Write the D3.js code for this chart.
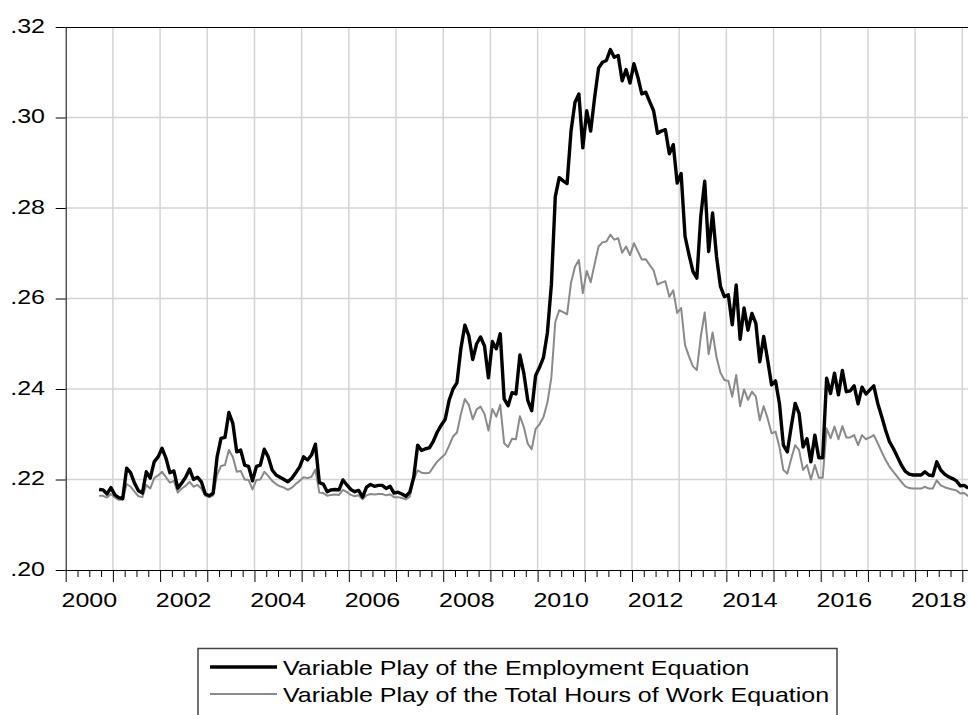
<!DOCTYPE html>
<html>
<head>
<meta charset="utf-8">
<script src="https://cdn.jsdelivr.net/npm/d3@7"></script>
<style>
  html, body { margin: 0; padding: 0; background: #fff; }
  #chart { width: 968px; height: 715px; overflow: hidden; }
  text { font-family: "Liberation Sans", Arial, sans-serif; fill: #000; }
</style>
</head>
<body>
<div id="chart"></div>
<script>
// monthly observations, first one is 2000M09
const startYear = 2000;
const startMonth = 9;

const employment = [
  .2178, .2177, .2168, .2182,
  .2166, .2160, .2158, .2225, .2215, .2192, .2175, .2170, .2217, .2203, .2239, .2250,
  .2269, .2247, .2215, .2219, .2181, .2192, .2205, .2223, .2200, .2205, .2195, .2168,
  .2164, .2170, .2250, .2291, .2293, .2348, .2324, .2261, .2265, .2232, .2229, .2197,
  .2229, .2232, .2267, .2250, .2221, .2210, .2205, .2200, .2195, .2203, .2215, .2228,
  .2250, .2243, .2254, .2278, .2193, .2190, .2173, .2177, .2178, .2177, .2199, .2188,
  .2178, .2173, .2176, .2161, .2183, .2189, .2185, .2187, .2187, .2180, .2185, .2170,
  .2172, .2168, .2163, .2172, .2205, .2276, .2264, .2268, .2270, .2285, .2305, .2320,
  .2333, .2375, .2400, .2414, .2490, .2541, .2518, .2465, .2500, .2515, .2495, .2425,
  .2505, .2489, .2522, .2378, .2363, .2392, .2389, .2475, .2435, .2375, .2352, .2430,
  .2448, .2470, .2525, .2630, .2825, .2867, .2860, .2854, .2970, .3033, .3052, .2933,
  .3015, .2970, .3044, .3109, .3122, .3126, .3150, .3133, .3137, .3081, .3106, .3076,
  .3119, .3089, .3052, .3056, .3035, .3015, .2965, .2970, .2973, .2920, .2940, .2855,
  .2876, .2737, .2697, .2660, .2645, .2782, .2859, .2704, .2789, .2693, .2627, .2604,
  .2608, .2542, .2630, .2510, .2579, .2530, .2567, .2545, .2460, .2516, .2464, .2409,
  .2418, .2368, .2276, .2261, .2317, .2368, .2346, .2272, .2290, .2239, .2298, .2248,
  .2248, .2424, .2390, .2435, .2387, .2441, .2394, .2396, .2407, .2367, .2404, .2389,
  .2398, .2407, .2368, .2339, .2309, .2283, .2268, .2250, .2232, .2218, .2212, .2210,
  .2210, .2210, .2217, .2210, .2208, .2239, .2221, .2212, .2206, .2202, .2197, .2186,
  .2187, .2181,
];

const totalHours = [
  .2164, .2164, .2160, .2168,
  .2160, .2155, .2155, .2190, .2184, .2173, .2163, .2161, .2188, .2180, .2203, .2209,
  .2217, .2205, .2193, .2197, .2171, .2180, .2186, .2195, .2184, .2188, .2180, .2164,
  .2161, .2165, .2210, .2230, .2232, .2265, .2250, .2217, .2219, .2200, .2199, .2178,
  .2199, .2200, .2217, .2208, .2197, .2190, .2185, .2182, .2177, .2182, .2190, .2197,
  .2205, .2203, .2206, .2222, .2171, .2170, .2164, .2166, .2167, .2166, .2177, .2172,
  .2166, .2163, .2165, .2156, .2165, .2168, .2167, .2168, .2168, .2165, .2167, .2161,
  .2161, .2159, .2156, .2162, .2200, .2220, .2215, .2214, .2215, .2228, .2240, .2248,
  .2256, .2275, .2295, .2304, .2345, .2378, .2365, .2333, .2355, .2361, .2345, .2308,
  .2356, .2339, .2365, .2280, .2272, .2290, .2289, .2340, .2316, .2279, .2267, .2312,
  .2322, .2338, .2370, .2425, .2548, .2574, .2570, .2565, .2635, .2670, .2685, .2612,
  .2661, .2636, .2676, .2715, .2724, .2726, .2741, .2730, .2733, .2701, .2715, .2696,
  .2722, .2704, .2686, .2687, .2674, .2662, .2631, .2635, .2638, .2604, .2618, .2568,
  .2579, .2497, .2472, .2450, .2442, .2516, .2569, .2477, .2525, .2470, .2436, .2420,
  .2418, .2383, .2431, .2362, .2399, .2376, .2394, .2383, .2331, .2362, .2335, .2302,
  .2306, .2272, .2221, .2213, .2246, .2276, .2265, .2221, .2232, .2200, .2232, .2204,
  .2204, .2313, .2291, .2317, .2289, .2318, .2293, .2293, .2298, .2276, .2298, .2289,
  .2293, .2298, .2280, .2261, .2243, .2228, .2217, .2206, .2195, .2185, .2181, .2180,
  .2180, .2180, .2184, .2180, .2180, .2198, .2187, .2183, .2180, .2178, .2176, .2169,
  .2170, .2163,
];

const yTicks = [0.20, 0.22, 0.24, 0.26, 0.28, 0.30, 0.32];
const yearLabels = [2000, 2002, 2004, 2006, 2008, 2010, 2012, 2014, 2016, 2018];

const seriesNames = [
  "Variable Play of the Employment Equation",
  "Variable Play of the Total Hours of Work Equation",
];

class TimeChart {
  constructor({ el, series }) {
    this.el = el;
    this.series = series;
    this.init();
  }

  init() {
    this.width = 968;
    this.height = 715;
    this.fontSize = 20.5;
    this.stretch = 1.22; // the picture is wider than tall, text too

    this.x = d3.scaleLinear().domain([2000, 2019]).range([65.7, 962.3]);
    this.y = d3.scaleLinear().domain([0.2, 0.32]).range([570, 27]);

    this.svg = d3
      .select(this.el)
      .append("svg")
      .attr("width", this.width)
      .attr("height", this.height)
      .attr("viewBox", [0, 0, this.width, this.height]);

    this.render();
  }

  // mid-month position of the i-th observation
  when(i) {
    return startYear + (startMonth - 1 + i + 0.5) / 12;
  }

  label(g, x, y, txt, anchor) {
    g.append("text")
      .attr("transform", `translate(${x},${y}) scale(${this.stretch},1)`)
      .attr("text-anchor", anchor)
      .attr("font-size", this.fontSize)
      .text(txt);
  }

  render() {
    this.renderGrid();
    this.renderLines();
    this.renderAxes();
    this.renderLegend();
  }

  renderGrid() {
    const [x0] = this.x.range();
    const right = this.width + 10;
    const grid = this.svg.append("g").attr("stroke", "#d4d4d4").attr("stroke-width", 1.5);

    grid
      .selectAll("line.v")
      .data(d3.range(2001, 2020))
      .join("line")
      .attr("class", "v")
      .attr("x1", (d) => this.x(d))
      .attr("x2", (d) => this.x(d))
      .attr("y1", this.y(0.32))
      .attr("y2", this.y(0.2));

    grid
      .selectAll("line.h")
      .data(yTicks.slice(1, -1))
      .join("line")
      .attr("class", "h")
      .attr("x1", x0)
      .attr("x2", right)
      .attr("y1", (d) => this.y(d))
      .attr("y2", (d) => this.y(d));
  }

  renderLines() {
    const line = d3
      .line()
      .x((d, i) => this.x(this.when(i)))
      .y((d) => this.y(d));

    this.svg
      .append("g")
      .attr("fill", "none")
      .attr("stroke-linejoin", "round")
      .selectAll("path")
      .data(this.series.slice().reverse())
      .join("path")
      .attr("stroke", (d) => d.color)
      .attr("stroke-width", (d) => d.width)
      .attr("d", (d) => line(d.values));
  }

  renderAxes() {
    const right = this.width + 10;
    const fmt = (d) => d3.format(".2f")(d).replace(/^0/, "");

    // left axis
    this.svg
      .append("g")
      .attr("transform", `translate(${this.x(2000)},0)`)
      .call(d3.axisLeft(this.y).tickValues(yTicks).tickSize(10).tickSizeOuter(0).tickFormat(""))
      .call((g) => g.selectAll("path, line").attr("stroke", "#000"));

    const yl = this.svg.append("g");
    yTicks.forEach((d) => this.label(yl, 45, this.y(d) + 5.5, fmt(d), "end"));

    // bottom axis: years and quarters
    const xAxis = this.svg.append("g").attr("transform", `translate(0,${this.y(0.2)})`);
    xAxis
      .append("g")
      .call(d3.axisBottom(this.x).tickValues(d3.range(2000, 2020)).tickSize(12).tickSizeOuter(0).tickFormat(""))
      .call((g) => g.select(".domain").remove());
    xAxis
      .append("g")
      .call(
        d3
          .axisBottom(this.x)
          .tickValues(d3.range(2000, 2019.3, 0.25).filter((d) => d % 1 !== 0))
          .tickSize(7)
          .tickSizeOuter(0)
          .tickFormat("")
      )
      .call((g) => g.select(".domain").remove());
    xAxis.selectAll("line").attr("stroke", "#000");

    xAxis
      .append("line")
      .attr("x1", this.x(2000))
      .attr("x2", right)
      .attr("y1", 0.5)
      .attr("y2", 0.5)
      .attr("stroke", "#000");

    const xl = this.svg.append("g");
    yearLabels.forEach((d) => this.label(xl, this.x(d + 0.5), 607, String(d), "middle"));

    // frame top
    this.svg
      .append("line")
      .attr("x1", this.x(2000))
      .attr("x2", right)
      .attr("y1", this.y(0.32) + 0.5)
      .attr("y2", this.y(0.32) + 0.5)
      .attr("stroke", "#000");
  }

  renderLegend() {
    const box = { x: 198, y: 648.5, w: 639, h: 90 };
    const lg = this.svg.append("g");

    lg.append("rect")
      .attr("x", box.x)
      .attr("y", box.y)
      .attr("width", box.w)
      .attr("height", box.h)
      .attr("fill", "#fff")
      .attr("stroke", "#444")
      .attr("stroke-width", 1.5);

    this.series.forEach((s, i) => {
      const cy = 667 + i * 27;
      lg.append("line")
        .attr("x1", 210)
        .attr("x2", 277)
        .attr("y1", cy)
        .attr("y2", cy)
        .attr("stroke", s.color)
        .attr("stroke-width", s.width);
      this.label(lg, 283, cy + 8, s.name, "start");
    });
  }
}

new TimeChart({
  el: document.getElementById("chart"),
  series: [
    { name: seriesNames[0], values: employment, color: "#000", width: 3.4 },
    { name: seriesNames[1], values: totalHours, color: "#8a8a8a", width: 2 },
  ],
});
</script>
</body>
</html>
